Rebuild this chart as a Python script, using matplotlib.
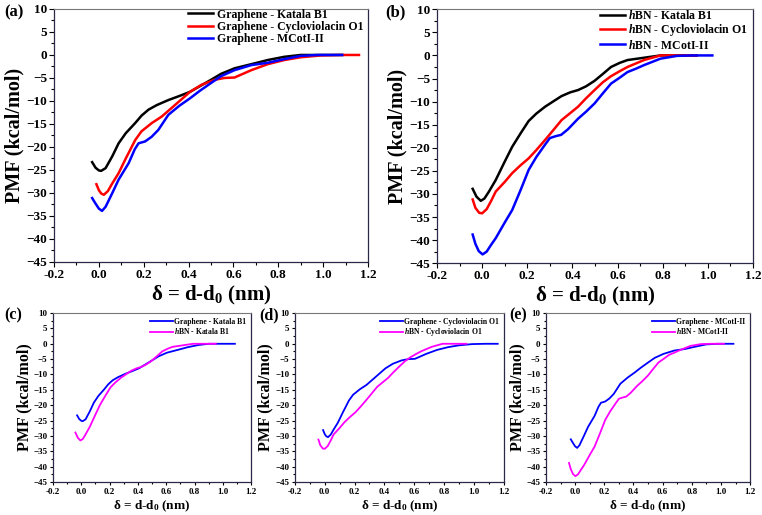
import matplotlib
matplotlib.use("Agg")
import matplotlib.pyplot as plt
from matplotlib.ticker import MultipleLocator

plt.rcParams['font.family'] = ['Liberation Serif', 'DejaVu Serif']
plt.rcParams['font.weight'] = 'bold'
plt.rcParams['mathtext.fontset'] = 'custom'
plt.rcParams['mathtext.rm'] = 'Liberation Serif:bold'
plt.rcParams['mathtext.bf'] = 'Liberation Serif:bold'
plt.rcParams['mathtext.bfit'] = 'Liberation Serif:italic:bold'
plt.rcParams['mathtext.it'] = 'Liberation Serif:italic:bold'

# graphene curves
gr_kat_x = [-0.03, -0.015, 0.0, 0.01, 0.03, 0.06, 0.088, 0.12, 0.162, 0.19, 0.221, 0.258, 0.31, 0.36, 0.407, 0.45, 0.5, 0.545, 0.605, 0.68, 0.753, 0.827, 0.9, 1.0, 1.085]
gr_kat_y = [-23.3, -24.5, -25.1, -25.2, -24.6, -22.0, -19.2, -17.0, -14.8, -13.2, -11.9, -10.9, -9.8, -8.9, -8.0, -6.8, -5.4, -4.1, -2.9, -2.0, -1.1, -0.4, 0.0, 0.0, 0.0]
gr_cyc_x = [-0.011, 0.0, 0.01, 0.022, 0.04, 0.06, 0.088, 0.12, 0.162, 0.19, 0.236, 0.28, 0.339, 0.407, 0.457, 0.516, 0.56, 0.605, 0.68, 0.753, 0.827, 0.9, 0.99, 1.08, 1.16]
gr_cyc_y = [-28.1, -29.4, -30.1, -30.4, -29.6, -27.9, -25.7, -22.5, -18.5, -16.6, -14.8, -13.4, -10.9, -8.0, -6.5, -5.4, -5.0, -4.9, -3.3, -2.0, -1.1, -0.5, -0.1, 0.0, 0.0]
gr_mco_x = [-0.03, -0.015, 0.0, 0.014, 0.03, 0.06, 0.088, 0.133, 0.16, 0.177, 0.206, 0.235, 0.265, 0.31, 0.36, 0.407, 0.45, 0.5, 0.545, 0.605, 0.68, 0.753, 0.827, 0.9, 0.975, 1.085]
gr_mco_y = [-31.1, -32.3, -33.4, -33.9, -33.0, -30.0, -27.1, -23.5, -20.5, -19.2, -18.8, -17.8, -16.3, -13.0, -11.0, -9.4, -7.8, -6.1, -4.6, -3.3, -2.2, -1.7, -0.9, -0.2, 0.0, 0.0]

# hBN curves
bn_kat_x = [-0.042, -0.025, -0.006, 0.01, 0.03, 0.06, 0.1, 0.133, 0.17, 0.206, 0.24, 0.279, 0.32, 0.352, 0.39, 0.425, 0.46, 0.498, 0.535, 0.571, 0.61, 0.644, 0.717, 0.79, 0.87, 0.95]
bn_kat_y = [-28.9, -30.6, -31.5, -31.0, -29.5, -27.0, -23.0, -19.8, -16.9, -14.2, -12.6, -11.1, -9.8, -8.8, -8.0, -7.5, -6.7, -5.5, -4.0, -2.5, -1.6, -1.0, -0.5, 0.0, 0.0, 0.0]
bn_cyc_x = [-0.042, -0.03, -0.013, 0.0, 0.02, 0.04, 0.06, 0.1, 0.133, 0.17, 0.206, 0.24, 0.279, 0.32, 0.352, 0.39, 0.425, 0.46, 0.498, 0.535, 0.571, 0.61, 0.644, 0.717, 0.79, 0.87, 0.95]
bn_cyc_y = [-31.2, -33.0, -34.1, -34.2, -33.3, -31.5, -29.5, -27.4, -25.5, -23.8, -22.3, -20.5, -18.3, -15.9, -14.0, -12.5, -11.1, -9.3, -7.5, -5.8, -4.5, -3.4, -2.5, -1.0, 0.0, 0.0, 0.0]
bn_mco_x = [-0.042, -0.03, -0.015, 0.002, 0.02, 0.04, 0.06, 0.1, 0.133, 0.17, 0.206, 0.24, 0.279, 0.3, 0.325, 0.35, 0.38, 0.425, 0.46, 0.498, 0.535, 0.571, 0.61, 0.644, 0.68, 0.717, 0.79, 0.863, 0.93, 1.02]
bn_mco_y = [-38.8, -40.8, -42.4, -43.1, -42.5, -41.0, -39.6, -36.2, -33.5, -29.2, -24.8, -22.0, -19.3, -17.9, -17.5, -17.2, -16.0, -13.7, -12.2, -10.4, -8.2, -6.1, -4.8, -3.6, -2.9, -2.1, -0.7, -0.1, 0.0, 0.0]

labels_gr = ['Graphene - Katala B1', 'Graphene - Cycloviolacin O1', 'Graphene - MCotI-II']
labels_bn = [r'$\mathbfit{h}$BN - Katala B1', r'$\mathbfit{h}$BN - Cycloviolacin O1', r'$\mathbfit{h}$BN - MCotI-II']

xlab = r'δ = d-d$_{\mathbf{0}}$ (nm)'

fig = plt.figure(figsize=(7.62, 5.15), dpi=100)


def style_ax(ax, tick_fs, ylab_fs, xlab_fs):
    ax.set_xlim(-0.2, 1.2)
    ax.set_ylim(-45, 10)
    ax.xaxis.set_major_locator(MultipleLocator(0.2))
    ax.xaxis.set_minor_locator(MultipleLocator(0.1))
    ax.yaxis.set_major_locator(MultipleLocator(5))
    ax.yaxis.set_minor_locator(MultipleLocator(2.5))
    ax.xaxis.set_major_formatter(matplotlib.ticker.FormatStrFormatter('%.1f'))
    ax.tick_params(which='both', direction='out', top=False, right=False, labelsize=tick_fs, width=0.8, pad=1.5)
    ax.tick_params(which='major', length=3.5)
    ax.tick_params(which='minor', length=2)
    for s in ['left', 'bottom', 'right']:
        ax.spines[s].set_color('#2a2a48')
        ax.spines[s].set_linewidth(0.9)
    ax.spines['top'].set_color('#777777')
    ax.set_ylabel('PMF (kcal/mol)', fontsize=ylab_fs, fontweight='bold', labelpad=1)
    ax.set_xlabel(xlab, fontsize=xlab_fs, fontweight='bold', labelpad=2)


# (a)
ax1 = fig.add_axes([0.0709, 0.4913, 0.412, 0.4913])
ax1.plot(gr_kat_x, gr_kat_y, color='black', lw=1.8, label=labels_gr[0])
ax1.plot(gr_cyc_x, gr_cyc_y, color='red', lw=1.8, label=labels_gr[1])
ax1.plot(gr_mco_x, gr_mco_y, color='blue', lw=1.8, label=labels_gr[2])
style_ax(ax1, 9.5, 14.5, 15)
ax1.legend(loc='upper right', bbox_to_anchor=(1.0, 1.02), frameon=False, fontsize=8.5,
           handlelength=2.1, labelspacing=0.03, borderaxespad=0.2, borderpad=0.2, handletextpad=0.3)
fig.text(0.005, 0.975, '(a)', fontsize=12, fontweight='bold', va='center')

# (b)
ax2 = fig.add_axes([0.5735, 0.489, 0.4147, 0.493])
ax2.plot(bn_kat_x, bn_kat_y, color='black', lw=1.8, label=labels_bn[0])
ax2.plot(bn_cyc_x, bn_cyc_y, color='red', lw=1.8, label=labels_bn[1])
ax2.plot(bn_mco_x, bn_mco_y, color='blue', lw=1.8, label=labels_bn[2])
style_ax(ax2, 9.5, 14.5, 15)
ax2.legend(loc='upper right', bbox_to_anchor=(1.0, 1.02), frameon=False, fontsize=8.5,
           handlelength=2.1, labelspacing=0.03, borderaxespad=0.2, borderpad=0.2, handletextpad=0.3)
fig.text(0.505, 0.975, '(b)', fontsize=12, fontweight='bold', va='center')

# bottom row
pairs = [
    (gr_kat_x, gr_kat_y, bn_kat_x, bn_kat_y, 0),
    (gr_cyc_x, gr_cyc_y, bn_cyc_x, bn_cyc_y, 1),
    (gr_mco_x, gr_mco_y, bn_mco_x, bn_mco_y, 2),
]
lefts = [0.0696, 0.387, 0.7165]
widths = [0.260, 0.274, 0.268]
tags = ['(c)', '(d)', '(e)']
tag_x = [0.006, 0.340, 0.668]
for (gx, gy, bx, by, i), l, w, t, tx in zip(pairs, lefts, widths, tags, tag_x):
    ax = fig.add_axes([l, 0.0641, w, 0.328])
    ax.plot(gx, gy, color='blue', lw=1.3, label=labels_gr[i])
    ax.plot(bx, by, color='magenta', lw=1.3, label=labels_bn[i])
    style_ax(ax, 6.5, 11.5, 9.5)
    ax.tick_params(which='major', length=2.5)
    ax.tick_params(which='minor', length=1.5)
    ax.legend(loc='upper right', frameon=False, fontsize=5.5, handlelength=3.0,
              labelspacing=0.1, borderaxespad=0.3, borderpad=0.3, handletextpad=0.2)
    fig.text(tx, 0.388, t, fontsize=11.5, fontweight='bold', va='center')

fig.savefig('out.png', dpi=100)
